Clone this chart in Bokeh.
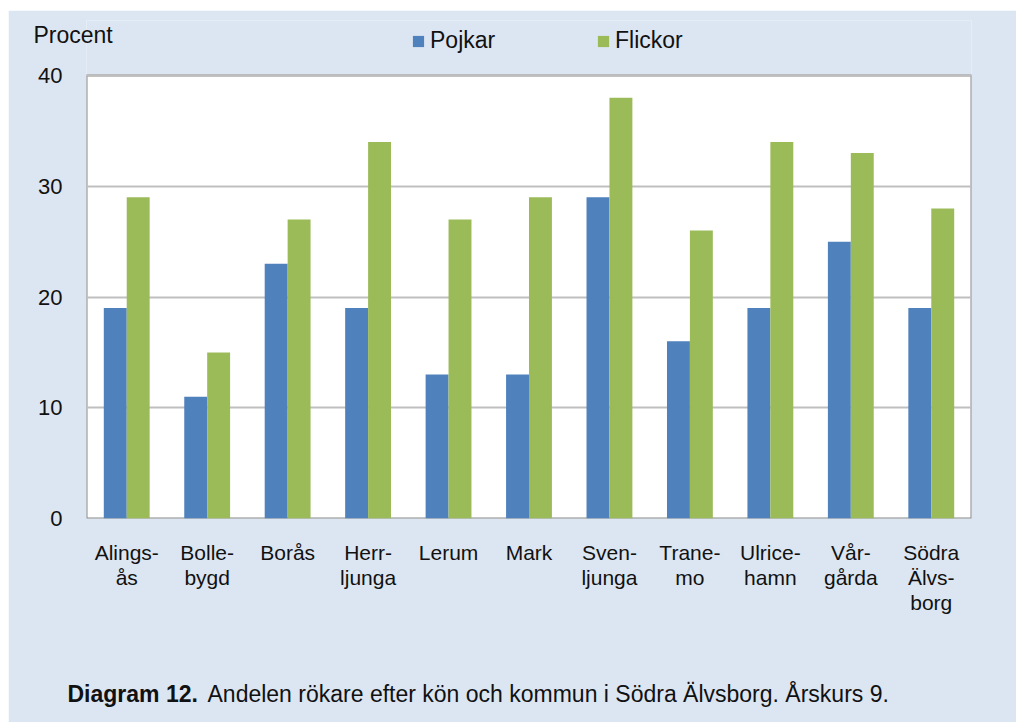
from bokeh.plotting import figure
from bokeh.models import Legend, LegendItem, FactorRange, Label, BoxAnnotation
from bokeh.transform import dodge
from bokeh.embed import file_html
from bokeh.resources import INLINE

categories = ["Alings-\nås", "Bolle-\nbygd", "Borås", "Herr-\nljunga", "Lerum", "Mark",
              "Sven-\nljunga", "Trane-\nmo", "Ulrice-\nhamn", "Vår-\ngårda", "Södra\nÄlvs-\nborg"]
pojkar = [19, 11, 23, 19, 13, 13, 29, 16, 19, 25, 19]
flickor = [29, 15, 27, 34, 27, 29, 38, 26, 34, 33, 28]
y_ticks = [0, 10, 20, 30, 40]
y_max = 40

BG = "#DCE6F2"
BLUE = "#4F81BD"
GREEN = "#9BBB59"
FONT = "Liberation Sans"
TXT = "#111111"

# frame spans from near the top of the card down to the zero line, so the
# legend (drawn inside the frame) sits above the white plot area
FRAME_H = 712 - 10 - 204
PLOT_H = 443
p = figure(x_range=FactorRange(*categories, range_padding=0),
           y_range=(0, y_max * FRAME_H / PLOT_H),
           width=1008, height=712, output_backend="svg", toolbar_location=None,
           min_border_left=78, min_border_right=45, min_border_top=10, min_border_bottom=204)
p.styles = {"margin-left": "8px", "margin-top": "10px"}
p.background_fill_color = BG
p.border_fill_color = BG
p.outline_line_color = None

# white plot area with grey border (0 .. 40)
p.add_layout(BoxAnnotation(bottom=0, top=y_max, fill_color="white", fill_alpha=1,
                           line_color="#878787", line_width=2, line_alpha=1, level="image"))

data = dict(cat=categories, pojkar=pojkar, flickor=flickor)
r1 = p.vbar(x=dodge("cat", -0.1425, range=p.x_range), top="pojkar", width=0.285,
            source=data, fill_color=BLUE, line_color=None)
r2 = p.vbar(x=dodge("cat", 0.1425, range=p.x_range), top="flickor", width=0.285,
            source=data, fill_color=GREEN, line_color=None)

p.xgrid.grid_line_color = None
p.ygrid.grid_line_color = "#BFBFBF"
p.ygrid.grid_line_width = 2
p.yaxis.ticker = y_ticks
p.ygrid.ticker = y_ticks

for ax in (p.xaxis[0], p.yaxis[0]):
    ax.axis_line_color = None
    ax.major_tick_line_color = None
    ax.minor_tick_line_color = None
    ax.major_tick_out = 0
    ax.major_tick_in = 0
    ax.minor_tick_out = 0
    ax.major_label_text_font = FONT
    ax.major_label_text_color = TXT
p.yaxis.major_label_text_font_size = "22px"
p.xaxis.major_label_text_font_size = "21px"
p.yaxis.major_label_standoff = 24
p.xaxis.major_label_standoff = 22
p.xaxis.major_label_text_line_height = 1.1

legend = Legend(items=[LegendItem(label="Pojkar", renderers=[r1]),
                       LegendItem(label="Flickor", renderers=[r2])],
                orientation="horizontal", location=(325, 464),
                padding=0, margin=0, spacing=0, glyph_width=14, glyph_height=14,
                label_standoff=5, label_width=166, label_height=25,
                label_text_font=FONT, label_text_font_size="23px", label_text_color=TXT,
                background_fill_alpha=0, border_line_color=None)
p.add_layout(legend, "center")

p.add_layout(Label(x=-19, y=-50, x_units="screen", y_units="screen", text="Diagram 12.",
                   text_font=FONT, text_font_size="23px", text_font_style="bold",
                   text_color=TXT, text_align="left", text_baseline="middle"), "below")
p.add_layout(Label(x=121, y=-24, x_units="screen", y_units="screen",
                   text="Andelen rökare efter kön och kommun i Södra Älvsborg. Årskurs 9.",
                   text_font=FONT, text_font_size="23px",
                   text_color=TXT, text_align="left", text_baseline="middle"), "below")
p.add_layout(Label(x=-53, y=661, x_units="screen", y_units="screen", text="Procent",
                   text_font=FONT, text_font_size="23px",
                   text_color=TXT, text_align="left", text_baseline="middle"), "below")

open("out.html", "w").write(file_html(p, INLINE))
